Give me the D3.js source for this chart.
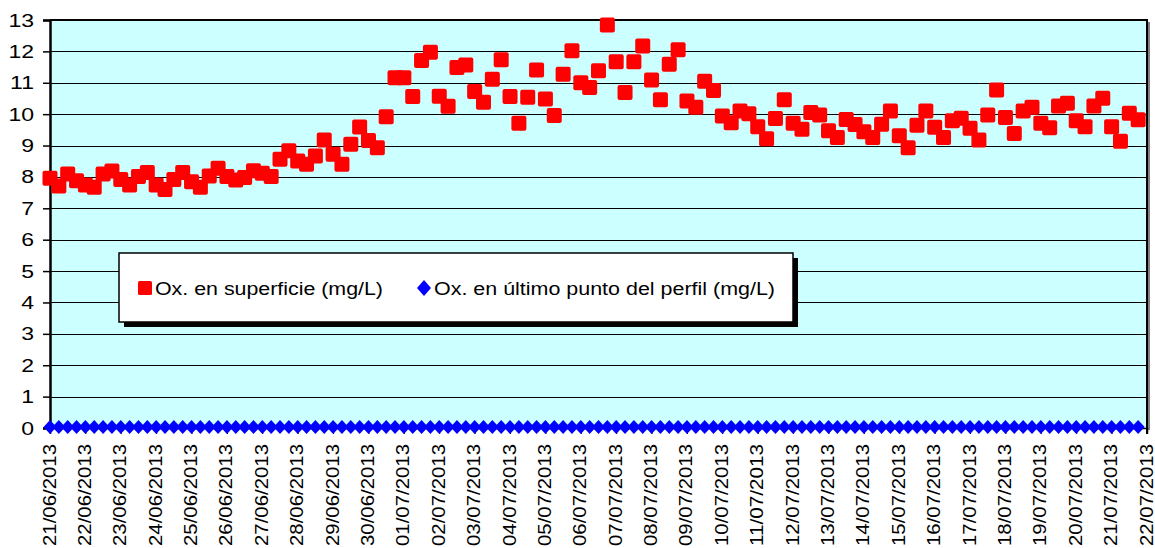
<!DOCTYPE html>
<html>
<head>
<meta charset="utf-8">
<script src="https://cdn.jsdelivr.net/npm/d3@7"></script>
<style>
  html, body { margin: 0; padding: 0; background: #fff; }
  svg { display: block; }
  text { font-family: Arial, "Liberation Sans", sans-serif; }
</style>
</head>
<body>
<svg id="chart" width="1155" height="548"></svg>
<script>
// ---- Data ----
const startDate = "2013-06-21T00:00:00";
const endDate = "2013-07-22T00:00:00";
const stepHours = 6;
const seriesNames = ["Ox. en superficie (mg/L)", "Ox. en último punto del perfil (mg/L)"];
const surfaceOx = [
  7.96, 7.71, 8.09, 7.88, 7.74, 7.67, 8.09, 8.19, 7.92, 7.74,
  8.01, 8.14, 7.74, 7.60, 7.92, 8.14, 7.85, 7.67, 8.03, 8.28,
  8.01, 7.90, 7.98, 8.20, 8.12, 8.01, 8.56, 8.83, 8.51, 8.40,
  8.67, 9.18, 8.72, 8.40, 9.04, 9.59, 9.16, 8.93, 9.92, 11.16,
  11.16, 10.56, 11.71, 11.97, 10.57, 10.25, 11.49, 11.57, 10.72, 10.38,
  11.11, 11.73, 10.56, 9.71, 10.54, 11.41, 10.48, 9.96, 11.27, 12.02,
  11.00, 10.85, 11.38, 12.84, 11.67, 10.69, 11.67, 12.17, 11.09, 10.46,
  11.59, 12.05, 10.42, 10.22, 11.05, 10.75, 9.94, 9.73, 10.10, 10.01,
  9.60, 9.22, 9.86, 10.46, 9.71, 9.52, 10.05, 9.97, 9.47, 9.26,
  9.83, 9.67, 9.44, 9.26, 9.68, 10.10, 9.31, 8.93, 9.65, 10.10,
  9.58, 9.26, 9.79, 9.87, 9.55, 9.18, 9.97, 10.77, 9.89, 9.38,
  10.10, 10.22, 9.71, 9.57, 10.26, 10.35, 9.79, 9.60, 10.26, 10.51,
  9.60, 9.14, 10.03, 9.82
];
const bottomOx = [
  0,0,0,0,0,0,0,0,0,0, 0,0,0,0,0,0,0,0,0,0,
  0,0,0,0,0,0,0,0,0,0, 0,0,0,0,0,0,0,0,0,0,
  0,0,0,0,0,0,0,0,0,0, 0,0,0,0,0,0,0,0,0,0,
  0,0,0,0,0,0,0,0,0,0, 0,0,0,0,0,0,0,0,0,0,
  0,0,0,0,0,0,0,0,0,0, 0,0,0,0,0,0,0,0,0,0,
  0,0,0,0,0,0,0,0,0,0, 0,0,0,0,0,0,0,0,0,0,
  0,0,0,0
];
const yTicks = [0,1,2,3,4,5,6,7,8,9,10,11,12,13];

// ---- Layout ----
const svg = d3.select("#chart");
const plot = { left: 50, right: 1147, top: 20, bottom: 428 };
const t0 = new Date(startDate), t1 = new Date(endDate);
const x = d3.scaleTime().domain([t0, t1]).range([plot.left, plot.right]);
const y = d3.scaleLinear().domain([0, 13]).range([plot.bottom, plot.top]);
const timeOf = i => new Date(t0.getTime() + i * stepHours * 3600 * 1000);
const dayTicks = d3.timeDay.range(t0, d3.timeDay.offset(t1, 1));
const fmt = d3.timeFormat("%d/%m/%Y");

// background
svg.append("rect").attr("x", 0).attr("y", 0).attr("width", 1155).attr("height", 548).attr("fill", "#fff");
// right shadow
svg.append("rect").attr("x", plot.right + 1).attr("y", plot.top + 2).attr("width", 2).attr("height", plot.bottom - plot.top)
  .attr("fill", "#808080");
svg.append("rect").attr("x", plot.left).attr("y", plot.top).attr("width", plot.right - plot.left)
  .attr("height", plot.bottom - plot.top).attr("fill", "#CCFFFF");

// grid lines
svg.append("g").selectAll("line").data(yTicks.filter(d => d > 0 && d < 13)).join("line")
  .attr("x1", plot.left).attr("x2", plot.right)
  .attr("y1", d => Math.round(y(d)) + 0.5).attr("y2", d => Math.round(y(d)) + 0.5)
  .attr("stroke", "#000").attr("stroke-width", 1);

// border: top & right
svg.append("line").attr("x1", plot.left).attr("x2", plot.right + 1).attr("y1", plot.top).attr("y2", plot.top)
  .attr("stroke", "#000").attr("stroke-width", 2);
svg.append("line").attr("x1", plot.right).attr("x2", plot.right).attr("y1", plot.top).attr("y2", plot.bottom + 6)
  .attr("stroke", "#000").attr("stroke-width", 2);

// y axis
const yAxis = d3.axisLeft(y).tickValues(yTicks).tickSize(7).tickPadding(0).tickFormat(d3.format("d"));
const ga = svg.append("g").attr("transform", `translate(${plot.left},0)`).call(yAxis);
ga.select(".domain").attr("stroke", "#000").attr("stroke-width", 2.5);
ga.selectAll(".tick line").attr("stroke", "#000").attr("stroke-width", 1.5);
ga.selectAll(".tick text").remove();
svg.append("g").selectAll("text").data(yTicks).join("text")
  .attr("transform", d => `translate(34,${y(d) + 6.5}) scale(1.28,1)`)
  .attr("text-anchor", "end").attr("font-size", 18).attr("fill", "#000")
  .text(d => d);

// x axis line & ticks
const xAxis = d3.axisBottom(x).tickValues(dayTicks).tickSize(6).tickFormat("");
const gx = svg.append("g").attr("transform", `translate(0,${plot.bottom})`).call(xAxis);
gx.select(".domain").attr("stroke", "#000").attr("stroke-width", 1.5);
gx.selectAll(".tick line").attr("stroke", "#000");

// x labels
svg.append("g").selectAll("text").data(dayTicks).join("text")
  .attr("transform", d => `translate(${x(d) + 5.5},444) rotate(-90)`)
  .attr("text-anchor", "end").attr("font-size", 18).attr("fill", "#000")
  .attr("textLength", 102).attr("lengthAdjust", "spacingAndGlyphs")
  .text(d => fmt(d));

// series: surface (red squares)
const sq = 15;
svg.append("g").selectAll("rect").data(surfaceOx).join("rect")
  .attr("x", (d, i) => x(timeOf(i)) - sq / 2)
  .attr("y", d => y(d) - sq / 2)
  .attr("width", sq).attr("height", sq).attr("rx", 2)
  .attr("fill", "#FF0000");

// series: bottom profile (blue diamonds)
const dw = 6.5, dh = 7;
svg.append("g").selectAll("path").data(bottomOx).join("path")
  .attr("d", (d, i) => {
    const cx = x(timeOf(i)), cy = y(d) - 1;
    return `M${cx},${cy - dh}L${cx + dw},${cy}L${cx},${cy + dh}L${cx - dw},${cy}Z`;
  })
  .attr("fill", "#0000FF");

// legend
const lg = { x: 119, y: 253, w: 674, h: 69 };
svg.append("rect").attr("x", lg.x + 5).attr("y", lg.y + 5).attr("width", lg.w).attr("height", lg.h).attr("fill", "#000");
svg.append("rect").attr("x", lg.x).attr("y", lg.y).attr("width", lg.w).attr("height", lg.h)
  .attr("fill", "#fff").attr("stroke", "#000").attr("stroke-width", 1.5);
const ly = 288;
svg.append("rect").attr("x", 138).attr("y", ly - 7).attr("width", 14).attr("height", 14).attr("rx", 1.5).attr("fill", "#FF0000");
svg.append("text").attr("x", 155).attr("y", ly + 7).attr("font-size", 18)
  .attr("textLength", 228).attr("lengthAdjust", "spacingAndGlyphs").text(seriesNames[0]);
svg.append("path").attr("d", `M424,${ly - 8}L431,${ly}L424,${ly + 8}L417,${ly}Z`).attr("fill", "#0000FF");
svg.append("text").attr("x", 434).attr("y", ly + 7).attr("font-size", 18)
  .attr("textLength", 341).attr("lengthAdjust", "spacingAndGlyphs").text(seriesNames[1]);
</script>
</body>
</html>
